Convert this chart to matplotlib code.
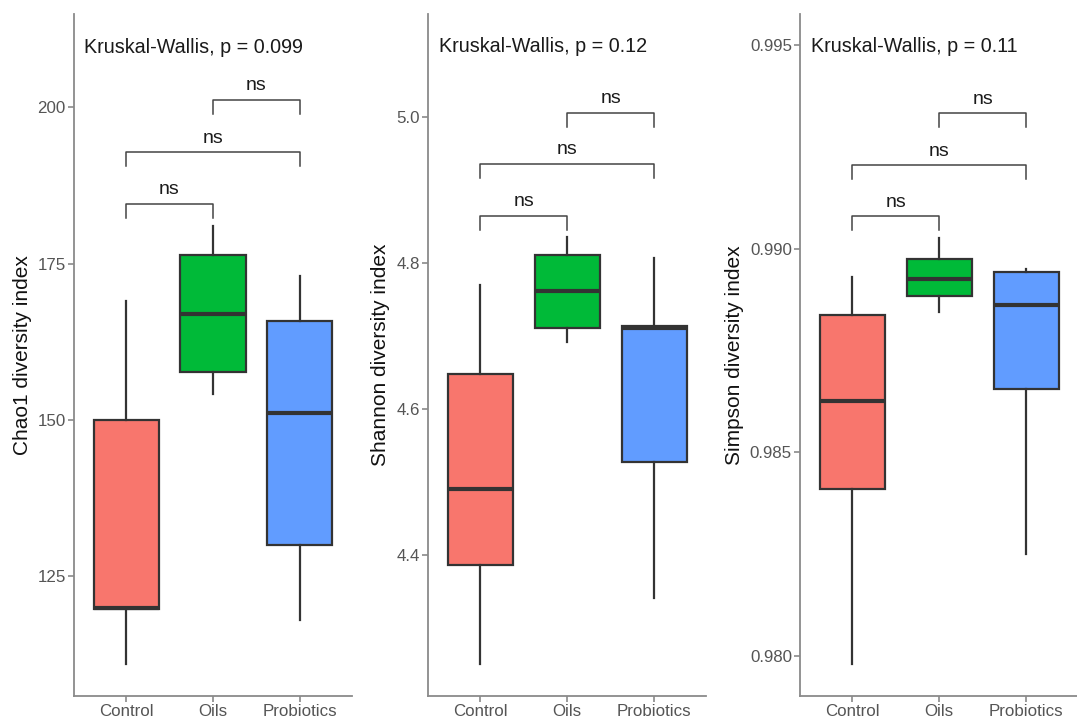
import matplotlib
matplotlib.use("Agg")
import matplotlib.pyplot as plt

plt.rcParams['font.family'] = ['Liberation Sans', 'DejaVu Sans']

groups = ["Control", "Oils", "Probiotics"]
colors = ["#F8766D", "#00BA38", "#619CFF"]

# five-number summaries per group: whisker low, Q1, median, Q3, whisker high
chao1_lo = [111.0, 154.1, 118.0]
chao1_q1 = [119.8, 157.7, 130.0]
chao1_med = [120.0, 167.0, 151.1]
chao1_q3 = [150.0, 176.4, 165.9]
chao1_hi = [169.0, 181.0, 173.0]

shannon_lo = [4.251, 4.692, 4.341]
shannon_q1 = [4.386, 4.711, 4.527]
shannon_med = [4.490, 4.7625, 4.711]
shannon_q3 = [4.6485, 4.811, 4.714]
shannon_hi = [4.770, 4.836, 4.807]

simpson_lo = [0.97980, 0.98844, 0.98250]
simpson_q1 = [0.98410, 0.98883, 0.98656]
simpson_med = [0.98625, 0.98926, 0.98861]
simpson_q3 = [0.98836, 0.98975, 0.98943]
simpson_hi = [0.98930, 0.99027, 0.98951]

ylabels = ["Chao1 diversity index", "Shannon diversity index", "Simpson diversity index"]
kw_p = ["0.099", "0.12", "0.11"]
kw_y = [209.6, 5.0967, 0.99496]

# pairwise comparisons (group index pairs) and bracket heights
pairs = [(0, 1), (0, 2), (1, 2)]
pair_labels = ["ns", "ns", "ns"]
chao1_brk = [184.6, 192.8, 201.2]
shannon_brk = [4.865, 4.936, 5.006]
simpson_brk = [0.99079, 0.99205, 0.99332]

ylims = [(105.9, 214.9), (4.207, 5.1415), (0.97901, 0.995762)]
yticks = [[125, 150, 175, 200], [4.4, 4.6, 4.8, 5.0], [0.980, 0.985, 0.990, 0.995]]
yticklabels = [["125", "150", "175", "200"], ["4.4", "4.6", "4.8", "5.0"],
               ["0.980", "0.985", "0.990", "0.995"]]

panels = [
    (chao1_lo, chao1_q1, chao1_med, chao1_q3, chao1_hi, chao1_brk),
    (shannon_lo, shannon_q1, shannon_med, shannon_q3, shannon_hi, shannon_brk),
    (simpson_lo, simpson_q1, simpson_med, simpson_q3, simpson_hi, simpson_brk),
]

fig = plt.figure(figsize=(10.77, 7.22), dpi=100)
lefts = [74 / 1077, 428.3 / 1077, 800.3 / 1077]
width = 278 / 1077
bottom = 26 / 722
height = 682 / 722
label_x = [-0.151, -0.139, -0.203]

axis_col = "#8a8a8a"
for i, (lo, q1, med, q3, hi, brk) in enumerate(panels):
    ax = fig.add_axes([lefts[i], bottom, width, height])
    stats = []
    for j in range(3):
        stats.append(dict(whislo=lo[j], q1=q1[j], med=med[j], q3=q3[j], whishi=hi[j], fliers=[]))
    bp = ax.bxp(stats, positions=[1, 2, 3], widths=0.75, patch_artist=True, showcaps=False,
                boxprops=dict(edgecolor="#333333", linewidth=1.6),
                medianprops=dict(color="#333333", linewidth=3),
                whiskerprops=dict(color="#333333", linewidth=1.6))
    for patch, c in zip(bp["boxes"], colors):
        patch.set_facecolor(c)

    ymin, ymax = ylims[i]
    ax.set_ylim(ymin, ymax)
    ax.set_xlim(0.4, 3.6)
    tip = (ymax - ymin) * 14 / 682
    for (a, b), h, lab in zip(pairs, brk, pair_labels):
        ax.plot([a + 1, a + 1, b + 1, b + 1], [h - tip, h, h, h - tip], color="#444444", lw=1.1)
        ax.annotate(lab, xy=((a + b) / 2 + 1, h), xytext=(0, 4), textcoords="offset points",
                    ha="center", va="bottom", fontsize=14, color="#1a1a1a")
    ax.text(0.52, kw_y[i], "Kruskal-Wallis, p = " + kw_p[i], ha="left", va="center",
            fontsize=14.2, color="#1a1a1a")

    ax.set_xticks([1, 2, 3])
    ax.set_xticklabels(groups)
    ax.set_yticks(yticks[i])
    ax.set_yticklabels(yticklabels[i])
    ax.set_ylabel(ylabels[i], fontsize=15, color="#111111")
    ax.yaxis.set_label_coords(label_x[i], 0.5)
    for s in ["top", "right"]:
        ax.spines[s].set_visible(False)
    for s in ["left", "bottom"]:
        ax.spines[s].set_color(axis_col)
        ax.spines[s].set_linewidth(1.3)
    ax.tick_params(axis="both", colors=axis_col, length=4, width=1.2, labelsize=12.2,
                   labelcolor="#555555", pad=2)

fig.savefig("out.png", dpi=100)
